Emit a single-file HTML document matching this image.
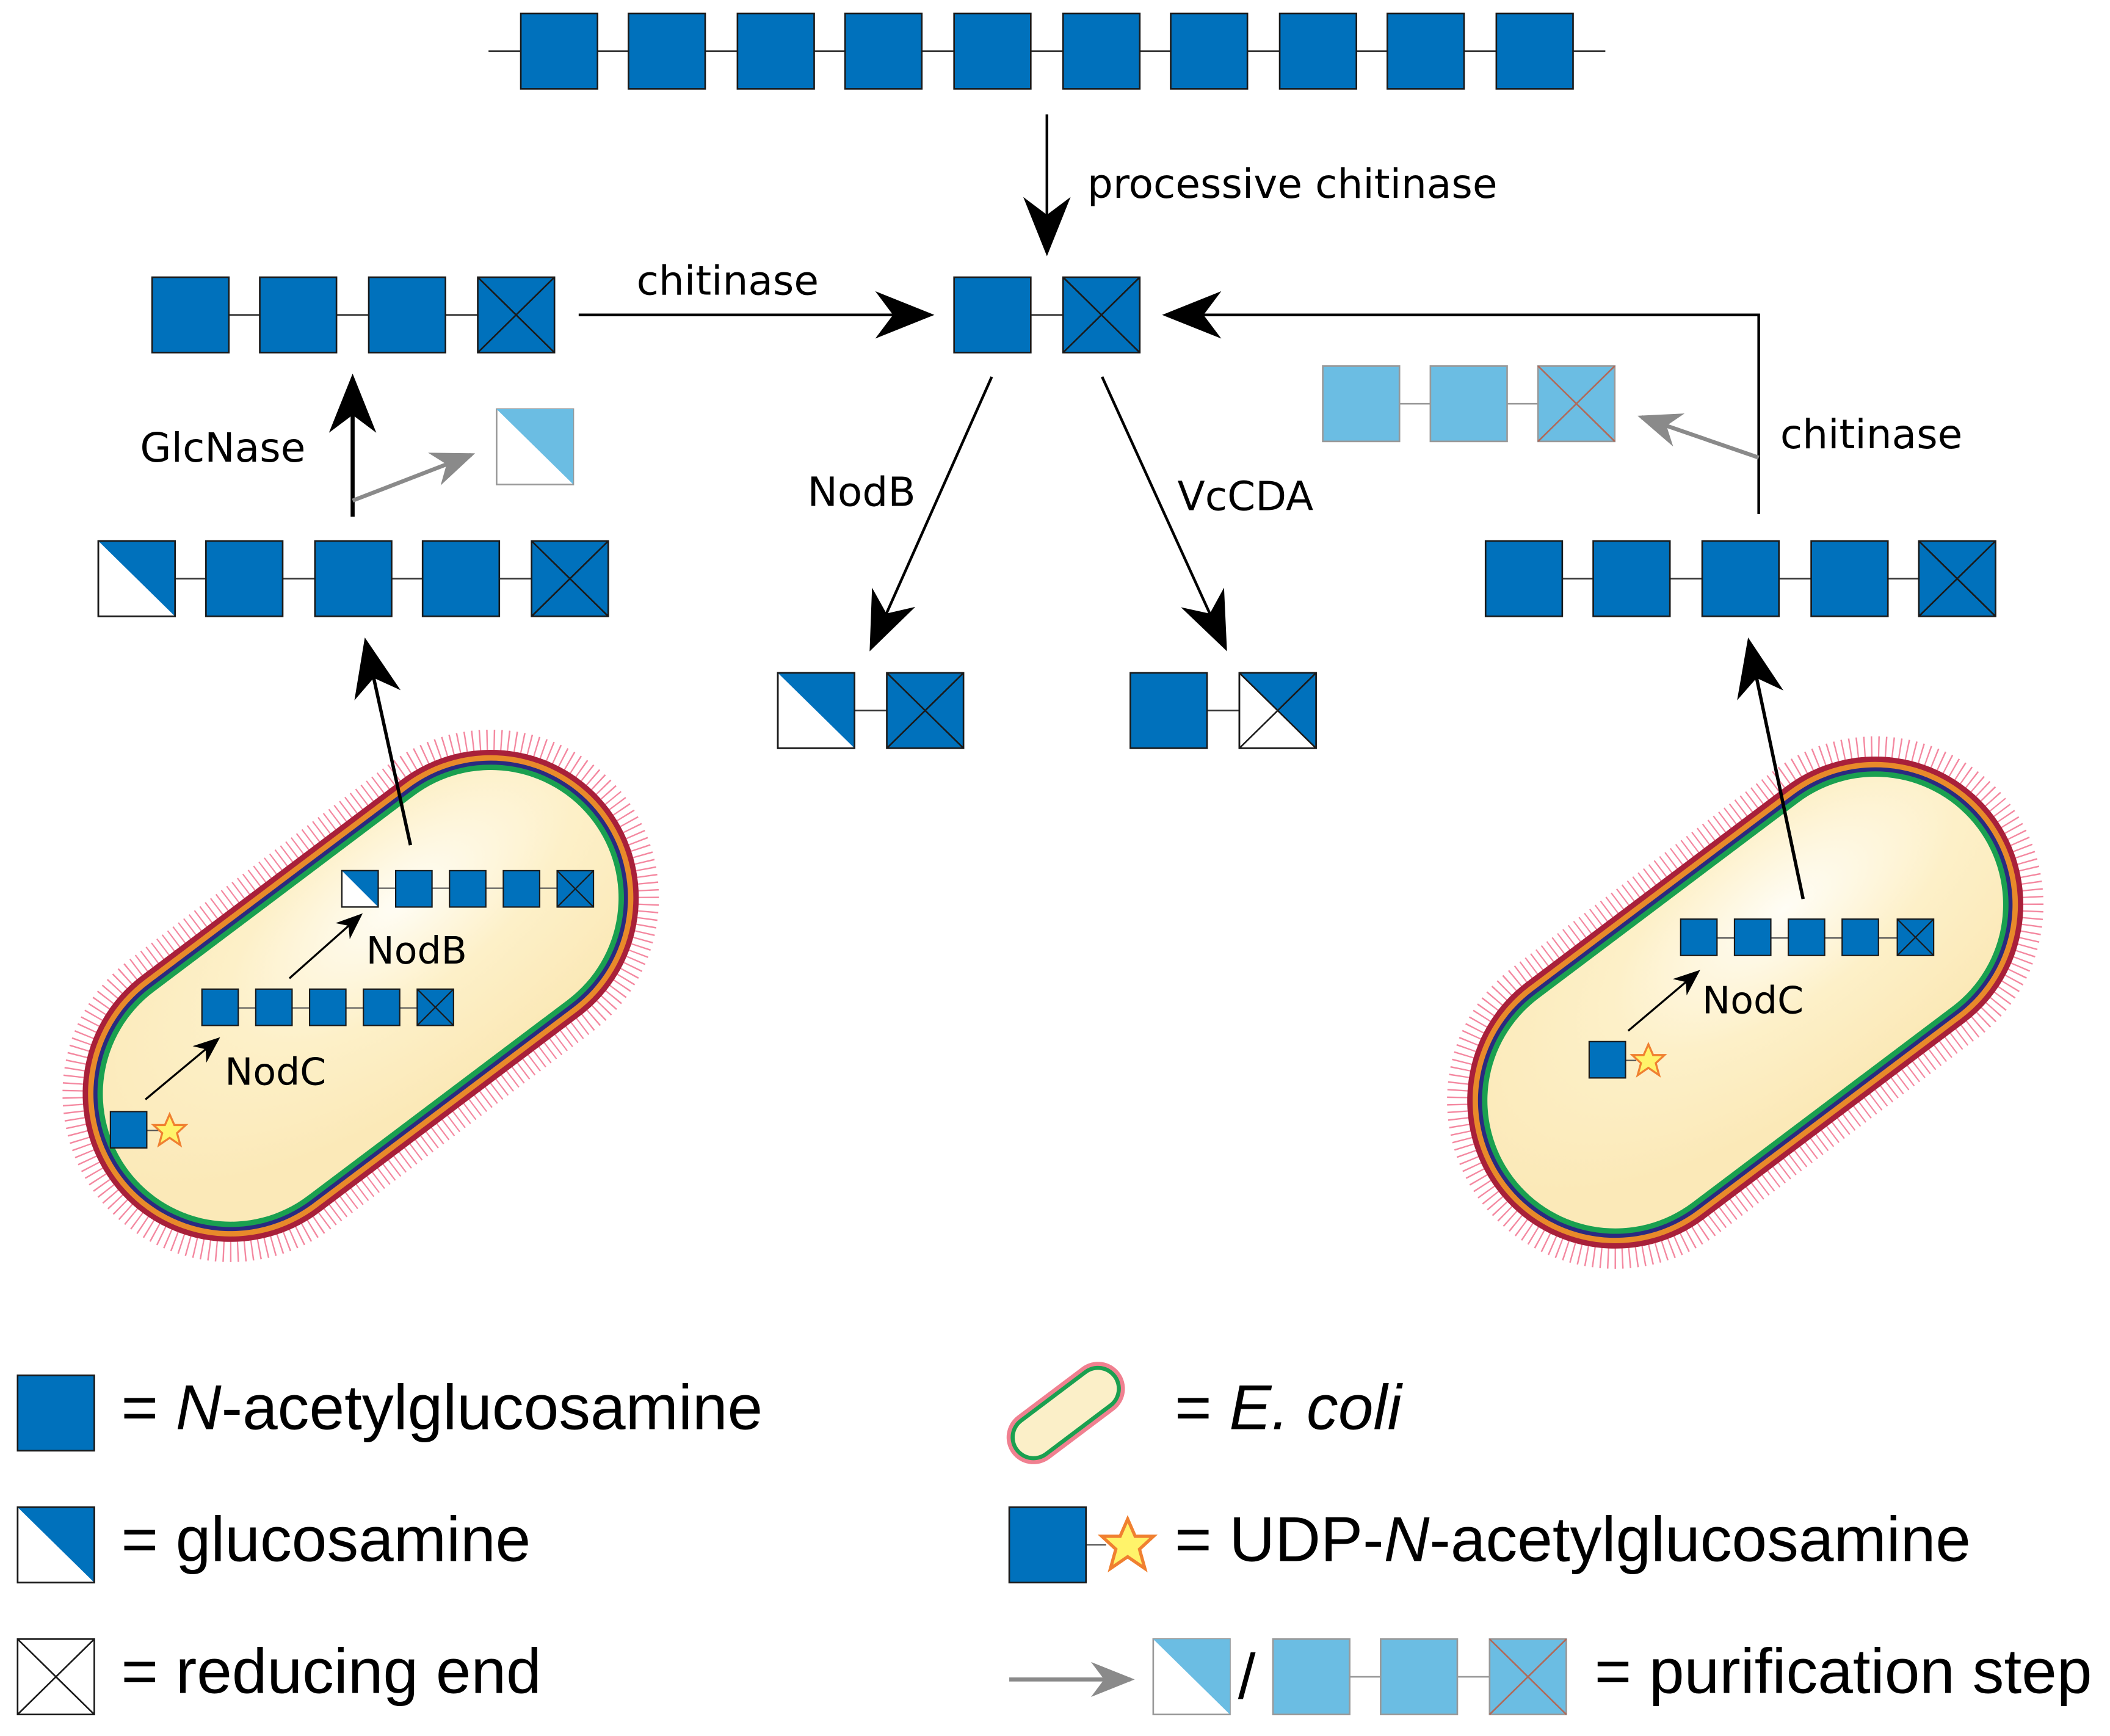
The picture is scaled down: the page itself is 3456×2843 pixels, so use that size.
<!DOCTYPE html>
<html><head><style>html,body{margin:0;padding:0;background:#fff}svg{display:block}</style></head><body>
<svg width="3456" height="2843" viewBox="0 0 1568 1290" xmlns="http://www.w3.org/2000/svg" font-family="DejaVu Sans, Liberation Sans, sans-serif">
<defs>
<marker id="ah" viewBox="0 0 20 16" refX="18" refY="8" markerWidth="20" markerHeight="16" markerUnits="userSpaceOnUse" orient="auto"><path d="M0,0 L20,8 L0,16 L6,8 Z" fill="#000"/></marker>
<marker id="ahb" viewBox="0 0 20 16" refX="18" refY="8" markerWidth="44" markerHeight="36" markerUnits="userSpaceOnUse" orient="auto"><path d="M0,0 L20,8 L0,16 L6,8 Z" fill="#000"/></marker>
<marker id="ahg" viewBox="0 0 20 16" refX="18" refY="8" markerWidth="34" markerHeight="26" markerUnits="userSpaceOnUse" orient="auto"><path d="M0,0 L20,8 L0,16 L6,8 Z" fill="#8a8a8a"/></marker>
<radialGradient id="cg" cx="0.65" cy="0.3" r="0.7"><stop offset="0" stop-color="#fffdf5"/><stop offset="0.5" stop-color="#fdf0c8"/><stop offset="1" stop-color="#fbe9b8"/></radialGradient>
<g id="sq"><rect width="57" height="56" fill="#0071bc" stroke="#1a1a1a" stroke-width="1.2"/></g>
<g id="gl"><rect width="57" height="56" fill="#fff" stroke="#1a1a1a" stroke-width="1.2"/><path d="M0,0 L57,0 L57,56 Z" fill="#0071bc"/><rect width="57" height="56" fill="none" stroke="#1a1a1a" stroke-width="1.2"/></g>
<g id="xe"><rect width="57" height="56" fill="#0071bc" stroke="#1a1a1a" stroke-width="1.2"/><path d="M0,0 L57,56 M57,0 L0,56" stroke="#1a1a1a" stroke-width="1.2"/></g>
<g id="lsq"><rect width="57" height="56" fill="#6bbde3" stroke="#999" stroke-width="1.2"/></g>
<g id="lxe"><rect width="57" height="56" fill="#6bbde3" stroke="#999" stroke-width="1.2"/><path d="M0,0 L57,56 M57,0 L0,56" stroke="#b06a5a" stroke-width="1.2"/></g>
<g id="lgl"><rect width="57" height="56" fill="#fff" stroke="#999" stroke-width="1.2"/><path d="M0,0 L57,0 L57,56 Z" fill="#6bbde3"/></g>
<g id="bact">
<rect x="-231" y="-110" width="462" height="220" rx="110" fill="none" stroke="#f06080" stroke-width="30" stroke-dasharray="1 4" opacity="0.75"/>
<rect x="-231" y="-110" width="462" height="220" rx="110" fill="#a8203a"/>
<rect x="-227" y="-106" width="454" height="212" rx="106" fill="#e88a2a"/>
<rect x="-223" y="-102" width="446" height="204" rx="102" fill="#2a2a80"/>
<rect x="-220" y="-99" width="440" height="198" rx="99" fill="#1aa050"/>
<rect x="-216" y="-95" width="432" height="190" rx="95" fill="url(#cg)"/>
</g>
<g id="ssq"><rect width="27" height="27" fill="#0071bc" stroke="#1a1a1a" stroke-width="1"/></g>
<g id="sxe"><rect width="27" height="27" fill="#0071bc" stroke="#1a1a1a" stroke-width="1"/><path d="M0,0 L27,27 M27,0 L0,27" stroke="#1a1a1a"/></g>
<g id="sgl"><rect width="27" height="27" fill="#fff" stroke="#1a1a1a"/><path d="M0,0 L27,0 L27,27 Z" fill="#0071bc"/><rect width="27" height="27" fill="none" stroke="#1a1a1a"/></g>
<g id="star"><path d="M0,-12 L3.5,-4 L12,-4 L5.5,2 L8,11 L0,5.5 L-8,11 L-5.5,2 L-12,-4 L-3.5,-4 Z" fill="#fff36a" stroke="#f08030" stroke-width="1.5"/></g>
</defs>

<line x1="363" y1="38" x2="1193" y2="38" stroke="#333" stroke-width="1.2"/>
<use href="#sq" x="387" y="10"/><use href="#sq" x="467" y="10"/><use href="#sq" x="548" y="10"/><use href="#sq" x="628" y="10"/><use href="#sq" x="709" y="10"/><use href="#sq" x="790" y="10"/><use href="#sq" x="870" y="10"/><use href="#sq" x="951" y="10"/><use href="#sq" x="1031" y="10"/><use href="#sq" x="1112" y="10"/>

<line x1="778" y1="85" x2="778" y2="186" stroke="#000" stroke-width="2" marker-end="url(#ahb)"/>
<text x="808" y="147" font-size="30">processive chitinase</text>

<line x1="140" y1="234" x2="385" y2="234" stroke="#333" stroke-width="1.2"/>
<use href="#sq" x="113" y="206"/><use href="#sq" x="193" y="206"/><use href="#sq" x="274" y="206"/><use href="#xe" x="355" y="206"/>
<line x1="430" y1="234" x2="690" y2="234" stroke="#000" stroke-width="2" marker-end="url(#ahb)"/>
<text x="473" y="219" font-size="30">chitinase</text>

<line x1="740" y1="234" x2="815" y2="234" stroke="#333" stroke-width="1.2"/>
<use href="#sq" x="709" y="206"/><use href="#xe" x="790" y="206"/>

<polyline points="1307,382 1307,234 868,234" fill="none" stroke="#000" stroke-width="2" marker-end="url(#ahb)"/>
<line x1="1307" y1="340" x2="1220" y2="310" stroke="#8a8a8a" stroke-width="3" marker-end="url(#ahg)"/>
<text x="1323" y="333" font-size="30">chitinase</text>

<line x1="1010" y1="300" x2="1170" y2="300" stroke="#999" stroke-width="1.2"/>
<use href="#lsq" x="983" y="272"/><use href="#lsq" x="1063" y="272"/><use href="#lxe" x="1143" y="272"/>

<line x1="262" y1="384" x2="262" y2="282" stroke="#000" stroke-width="3" marker-end="url(#ahb)"/>
<line x1="262" y1="372" x2="350" y2="338" stroke="#8a8a8a" stroke-width="3" marker-end="url(#ahg)"/>
<text x="104" y="343" font-size="30">GlcNase</text>
<use href="#lgl" x="369" y="304"/>

<line x1="100" y1="430" x2="425" y2="430" stroke="#333" stroke-width="1.2"/>
<use href="#gl" x="73" y="402"/><use href="#sq" x="153" y="402"/><use href="#sq" x="234" y="402"/><use href="#sq" x="314" y="402"/><use href="#xe" x="395" y="402"/>

<line x1="1130" y1="430" x2="1455" y2="430" stroke="#333" stroke-width="1.2"/>
<use href="#sq" x="1104" y="402"/><use href="#sq" x="1184" y="402"/><use href="#sq" x="1265" y="402"/><use href="#sq" x="1346" y="402"/><use href="#xe" x="1426" y="402"/>

<line x1="737" y1="280" x2="648" y2="480" stroke="#000" stroke-width="2" marker-end="url(#ahb)"/>
<line x1="819" y1="280" x2="910" y2="480" stroke="#000" stroke-width="2" marker-end="url(#ahb)"/>
<text x="600" y="376" font-size="30">NodB</text>
<text x="875" y="379" font-size="30">VcCDA</text>
<line x1="605" y1="528" x2="690" y2="528" stroke="#333" stroke-width="1.2"/>
<use href="#gl" x="578" y="500"/><use href="#xe" x="659" y="500"/>
<line x1="868" y1="528" x2="950" y2="528" stroke="#333" stroke-width="1.2"/>
<use href="#sq" x="840" y="500"/>
<g transform="translate(921,500)"><rect width="57" height="56" fill="#fff" stroke="#1a1a1a" stroke-width="1.2"/><path d="M0,0 L57,0 L57,56 Z" fill="#0071bc"/><path d="M0,0 L57,56 M57,0 L0,56" stroke="#1a1a1a" stroke-width="1.2"/><rect width="57" height="56" fill="none" stroke="#1a1a1a" stroke-width="1.2"/></g>

<use href="#bact" transform="translate(268,740) rotate(-37)"/>
<use href="#bact" transform="translate(1297,745) rotate(-37)"/>

<line x1="268" y1="660" x2="430" y2="660" stroke="#555"/>
<use href="#sgl" x="254" y="647"/><use href="#ssq" x="294" y="647"/><use href="#ssq" x="334" y="647"/><use href="#ssq" x="374" y="647"/><use href="#sxe" x="414" y="647"/>
<line x1="165" y1="749" x2="325" y2="749" stroke="#555"/>
<use href="#ssq" x="150" y="735"/><use href="#ssq" x="190" y="735"/><use href="#ssq" x="230" y="735"/><use href="#ssq" x="270" y="735"/><use href="#sxe" x="310" y="735"/>
<line x1="100" y1="840" x2="118" y2="840" stroke="#555"/>
<use href="#ssq" x="82" y="826"/><use href="#star" x="126" y="840"/>
<line x1="108" y1="817" x2="162" y2="772" stroke="#000" stroke-width="1.5" marker-end="url(#ah)"/>
<line x1="215" y1="727" x2="268" y2="680" stroke="#000" stroke-width="1.5" marker-end="url(#ah)"/>
<text x="272" y="716" font-size="28">NodB</text>
<text x="167" y="806" font-size="28">NodC</text>
<line x1="305" y1="628" x2="272" y2="478" stroke="#000" stroke-width="2.5" marker-end="url(#ahb)"/>

<line x1="1262" y1="697" x2="1425" y2="697" stroke="#555"/>
<use href="#ssq" x="1249" y="683"/><use href="#ssq" x="1289" y="683"/><use href="#ssq" x="1329" y="683"/><use href="#ssq" x="1369" y="683"/><use href="#sxe" x="1410" y="683"/>
<line x1="1200" y1="788" x2="1216" y2="788" stroke="#555"/>
<use href="#ssq" x="1181" y="774"/><use href="#star" x="1225" y="788"/>
<line x1="1210" y1="766" x2="1262" y2="722" stroke="#000" stroke-width="1.5" marker-end="url(#ah)"/>
<text x="1265" y="753" font-size="28">NodC</text>
<line x1="1340" y1="668" x2="1300" y2="478" stroke="#000" stroke-width="2.5" marker-end="url(#ahb)"/>

<g font-family="Liberation Sans, sans-serif" font-size="47">
<use href="#sq" x="13" y="1022"/>
<text x="90" y="1062">= <tspan font-style="italic">N</tspan>-acetylglucosamine</text>
<use href="#gl" x="13" y="1120"/>
<text x="90" y="1160">= glucosamine</text>
<g transform="translate(13,1218)"><rect width="57" height="56" fill="#fff" stroke="#1a1a1a" stroke-width="1.2"/><path d="M0,0 L57,56 M57,0 L0,56" stroke="#1a1a1a" stroke-width="1.2"/></g>
<text x="90" y="1258">= reducing end</text>

<g transform="translate(792,1050) rotate(-37)">
<rect x="-50" y="-20" width="100" height="40" rx="20" fill="#f08090"/>
<rect x="-47" y="-17" width="94" height="34" rx="17" fill="#1aa050"/>
<rect x="-44" y="-14" width="88" height="28" rx="14" fill="#fbefc8"/>
</g>
<text x="873" y="1062">= <tspan font-style="italic">E. coli</tspan></text>
<line x1="800" y1="1148" x2="822" y2="1148" stroke="#555"/>
<use href="#sq" x="750" y="1120"/>
<use href="#star" transform="translate(838,1148) scale(1.6)"/>
<text x="873" y="1160">= UDP-<tspan font-style="italic">N</tspan>-acetylglucosamine</text>

<line x1="750" y1="1248" x2="840" y2="1248" stroke="#8a8a8a" stroke-width="3" marker-end="url(#ahg)"/>
<use href="#lgl" x="857" y="1218"/>
<text x="920" y="1262">/</text>
<line x1="975" y1="1246" x2="1135" y2="1246" stroke="#999" stroke-width="1.2"/>
<use href="#lsq" x="946" y="1218"/><use href="#lsq" x="1026" y="1218"/><use href="#lxe" x="1107" y="1218"/>
<text x="1185" y="1258">= purification step</text>
</g>
</svg>
</body></html>
